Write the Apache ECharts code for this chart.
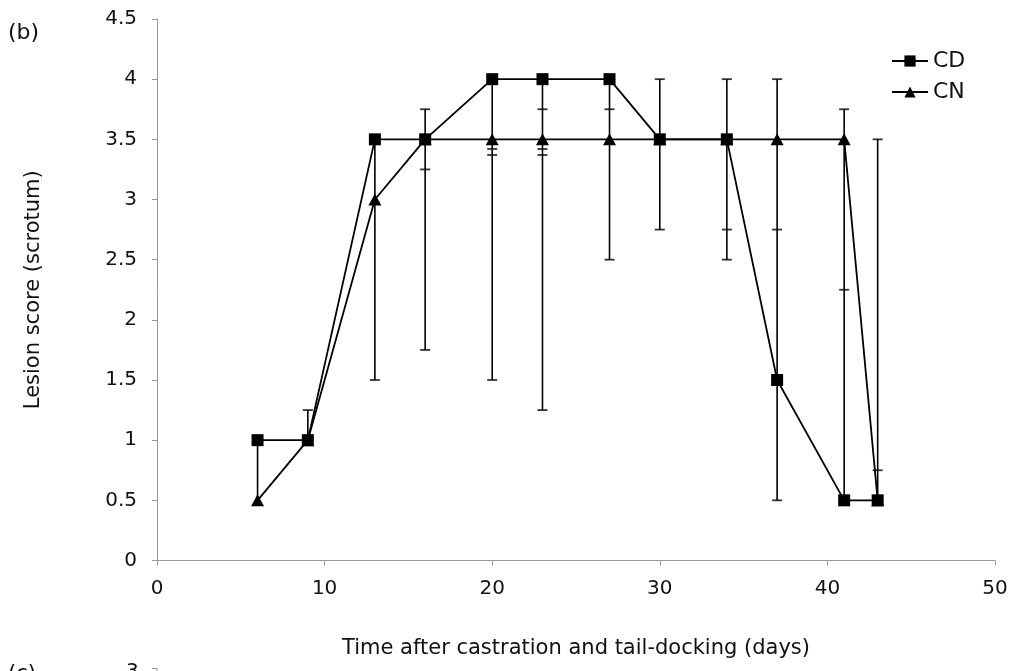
<!DOCTYPE html>
<html>
<head>
<meta charset="utf-8">
<script src="https://cdn.jsdelivr.net/npm/echarts@6/dist/echarts.min.js"></script>
<style>
html,body{margin:0;padding:0;background:#fff;}
#chart{width:1017px;height:671px;}
</style>
</head>
<body>
<div id="chart"></div>
<script>
// Days after castration and tail-docking
var days = [6, 9, 13, 16, 20, 23, 27, 30, 34, 37, 41, 43];
// Lesion scores
var cdScores = [1, 1, 3.5, 3.5, 4, 4, 4, 3.5, 3.5, 1.5, 0.5, 0.5];
var cnScores = [0.5, 1, 3, 3.5, 3.5, 3.5, 3.5, 3.5, 3.5, 3.5, 3.5, 0.5];
// Error bar extents at each day
var errLow  = [0.5, 1, 1.5, 1.75, 1.5, 1.25, 2.5, 2.75, 2.5, 0.5, 0.5, 0.5];
var errHigh = [1, 1.25, 3.5, 3.75, 4, 4, 4, 4, 4, 4, 3.75, 3.5];
// Error bar caps
var capX = [9, 13, 16, 16, 16, 20, 20, 20, 23, 23, 23, 23, 27, 27, 30, 30, 34, 34, 34, 37, 37, 37, 41, 41, 43, 43];
var capY = [1.25, 1.5, 3.75, 3.25, 1.75, 3.42, 3.37, 1.5, 3.75, 3.42, 3.37, 1.25, 3.75, 2.5, 4, 2.75, 4, 2.75, 2.5, 4, 2.75, 0.5, 3.75, 2.25, 3.5, 0.75];
var seriesNames = ['CD', 'CN'];

var FONT = '"DejaVu Sans", "Liberation Sans", Arial, sans-serif';

var chart = echarts.init(document.getElementById('chart'), null, {renderer: 'canvas'});

var errData = days.map(function (d, i) { return [d, errLow[i], errHigh[i]]; });
var capData = capX.map(function (d, i) { return [d, capY[i]]; });

var option = {
  backgroundColor: '#fff',
  animation: false,
  textStyle: {fontFamily: FONT},
  grid: {left: 157, right: 22, top: 19, bottom: 110.5, containLabel: false},
  legend: {
    data: seriesNames,
    orient: 'vertical',
    left: 891,
    top: 50,
    padding: 0,
    itemWidth: 36,
    itemHeight: 14,
    itemGap: 9,
    textStyle: {fontSize: 22, color: '#111', fontFamily: FONT}
  },
  xAxis: {
    type: 'value', min: 0, max: 50, interval: 10,
    name: 'Time after castration and tail-docking (days)',
    nameLocation: 'middle', nameGap: 78,
    nameTextStyle: {fontSize: 21, color: '#111', fontFamily: FONT},
    axisLine: {show: true, lineStyle: {color: '#9a9a9a', width: 1}},
    axisTick: {show: true, length: 5, lineStyle: {color: '#9a9a9a'}},
    axisLabel: {fontSize: 20, color: '#111', margin: 18, fontFamily: FONT},
    splitLine: {show: false}
  },
  yAxis: {
    type: 'value', min: 0, max: 4.5, interval: 0.5,
    name: 'Lesion score (scrotum)',
    nameLocation: 'middle', nameGap: 113,
    nameTextStyle: {fontSize: 21, color: '#111', fontFamily: FONT},
    axisLine: {show: true, lineStyle: {color: '#9a9a9a', width: 1}},
    axisTick: {show: true, length: 5, lineStyle: {color: '#9a9a9a'}},
    axisLabel: {fontSize: 20, color: '#111', margin: 20, fontFamily: FONT, padding: [4, 0, 0, 0]},
    splitLine: {show: false}
  },
  graphic: [
    {type: 'text', left: 8, top: 22, style: {text: '(b)', fontSize: 22, fill: '#111', fontFamily: FONT}},
    {type: 'text', left: 8, top: 664, style: {text: '(c)', fontSize: 21, fill: '#111', fontFamily: FONT}},
    {type: 'text', left: 126, top: 662, style: {text: '3', fontSize: 20, fill: '#111', fontFamily: FONT}},
    {type: 'line', shape: {x1: 152, y1: 668.5, x2: 157, y2: 668.5}, style: {stroke: '#9a9a9a', lineWidth: 1}},
    {type: 'line', shape: {x1: 157, y1: 668, x2: 157, y2: 671}, style: {stroke: '#9a9a9a', lineWidth: 1}}
  ],
  series: [
    {
      name: 'errbars', type: 'custom', z: 1, silent: true,
      encode: {x: 0, y: [1, 2]},
      data: errData,
      renderItem: function (params, api) {
        var x = api.value(0);
        var p1 = api.coord([x, api.value(1)]);
        var p2 = api.coord([x, api.value(2)]);
        return {type: 'line', shape: {x1: p1[0], y1: p1[1], x2: p2[0], y2: p2[1]},
                style: {stroke: '#000', lineWidth: 1.6}};
      }
    },
    {
      name: 'caps', type: 'scatter', z: 1, silent: true,
      symbol: 'rect', symbolSize: [10, 1.8],
      itemStyle: {color: '#000'},
      data: capData
    },
    {
      name: 'CN', type: 'line', z: 3,
      data: days.map(function (d, i) { return [d, cnScores[i]]; }),
      symbol: 'triangle', symbolSize: [13, 12],
      lineStyle: {color: '#000', width: 1.8},
      itemStyle: {color: '#000', borderWidth: 0},
      showAllSymbol: true
    },
    {
      name: 'CD', type: 'line', z: 4,
      data: days.map(function (d, i) { return [d, cdScores[i]]; }),
      symbol: 'rect', symbolSize: 12,
      lineStyle: {color: '#000', width: 1.8},
      itemStyle: {color: '#000', borderWidth: 0},
      showAllSymbol: true
    }
  ]
};
chart.setOption(option);
</script>
</body>
</html>
